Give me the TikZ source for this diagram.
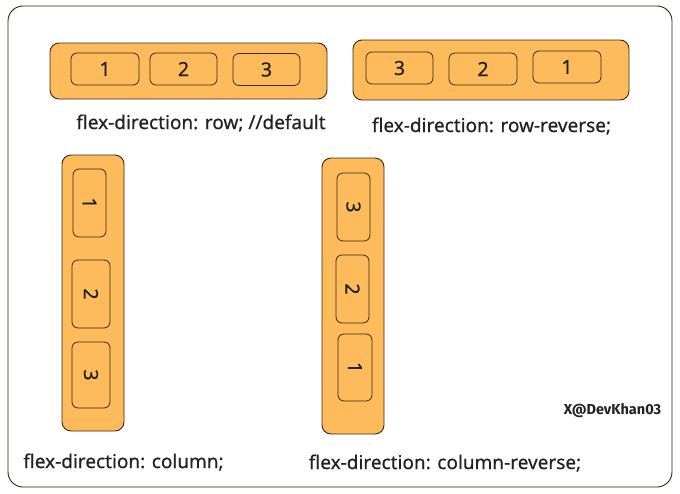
\documentclass[tikz,border=0pt]{standalone}
\usepackage{fontspec}
\setmainfont[FakeBold=0.5]{Noto Sans}
\newfontfamily\markfont{Fira Sans}
\usetikzlibrary{positioning}
\definecolor{flexorange}{RGB}{253,187,92}
\definecolor{flexline}{RGB}{58,42,20}
\definecolor{flextext}{RGB}{34,34,34}
\tikzset{
    container/.style = {draw=flexline, fill=flexorange, rounded corners=9pt, line width=0.9pt, inner sep=0pt},
    item/.style = {draw=flexline, fill=flexorange, rounded corners=6pt, line width=0.8pt, inner sep=0pt,
        text=flextext, font=\fontsize{19.5}{21}\selectfont},
    vitem/.style = {item, minimum width=34pt, minimum height=67pt},
    hitem/.style = {item, minimum width=67pt, minimum height=32pt},
    caption/.style = {text=flextext, font=\fontsize{19}{21}\selectfont, inner sep=0pt}}

\begin{document}
\begin{tikzpicture}[x=1pt, y=-1pt]
    \useasboundingbox (0,0) rectangle (680,493);
    \draw[rounded corners=15pt, line width=0.9pt, draw=flexline!80!black] (8,6) rectangle (672,487);

    % row
    \node (rowbox) [container, minimum width=277pt, minimum height=56pt] at (188.5,71) {};
    \node (row1) [hitem, minimum width=68pt] at (105,69) {1};
    \node (row2) [hitem] at (183.5,69) {2};
    \node (row3) [hitem] at (266.5,69.5) {3};
    \node (rowlbl) [caption] at (201,123) {flex-direction: row; //default};

    % row-reverse
    \node (rrbox) [container, minimum width=276pt, minimum height=60pt] at (491,70) {};
    \node (rr3) [hitem] at (399.5,68) {3};
    \node (rr2) [hitem, minimum width=68pt] at (483,69) {2};
    \node (rr1) [hitem, minimum width=68pt] at (567,67) {1};
    \node (rrlbl) [caption] at (491.5,126) {flex-direction: row-reverse;};

    % column
    \node (colbox) [container, minimum width=62pt, minimum height=276pt] at (93,293) {};
    \node (col1) [vitem, minimum width=33pt, minimum height=68pt] at (89.5,203) {};
    \node (col2) [vitem, minimum width=38pt, minimum height=68pt] at (91,294) {};
    \node (col3) [vitem, minimum width=38pt, minimum height=66pt] at (91,375) {};
    \foreach \n/\t in {col1/1, col2/2, col3/3}
        \node[rotate=-90, text=flextext, font=\fontsize{19.5}{21}\selectfont] at (\n) {\t};
    \node (collbl) [caption] at (123.5,462) {flex-direction: column;};

    % column-reverse
    \node (crbox) [container, minimum width=62pt, minimum height=276pt] at (353,296) {};
    \node (cr3) [vitem, minimum width=33pt, minimum height=68pt] at (353.5,207) {};
    \node (cr2) [vitem, minimum width=33pt, minimum height=68pt] at (352.5,289) {};
    \node (cr1) [vitem, minimum width=34pt, minimum height=67pt] at (355,367.5) {};
    \foreach \n/\t in {cr3/3, cr2/2, cr1/1}
        \node[rotate=-90, text=flextext, font=\fontsize{19.5}{21}\selectfont] at (\n) {\t};
    \node (crlbl) [caption] at (445,463) {flex-direction: column-reverse;};

    \node (mark) [inner sep=0pt, font=\markfont\bfseries\fontsize{14.5}{16}\selectfont, text=flextext] at (612.5,411) {X@DevKhan03};
\end{tikzpicture}
\end{document}
